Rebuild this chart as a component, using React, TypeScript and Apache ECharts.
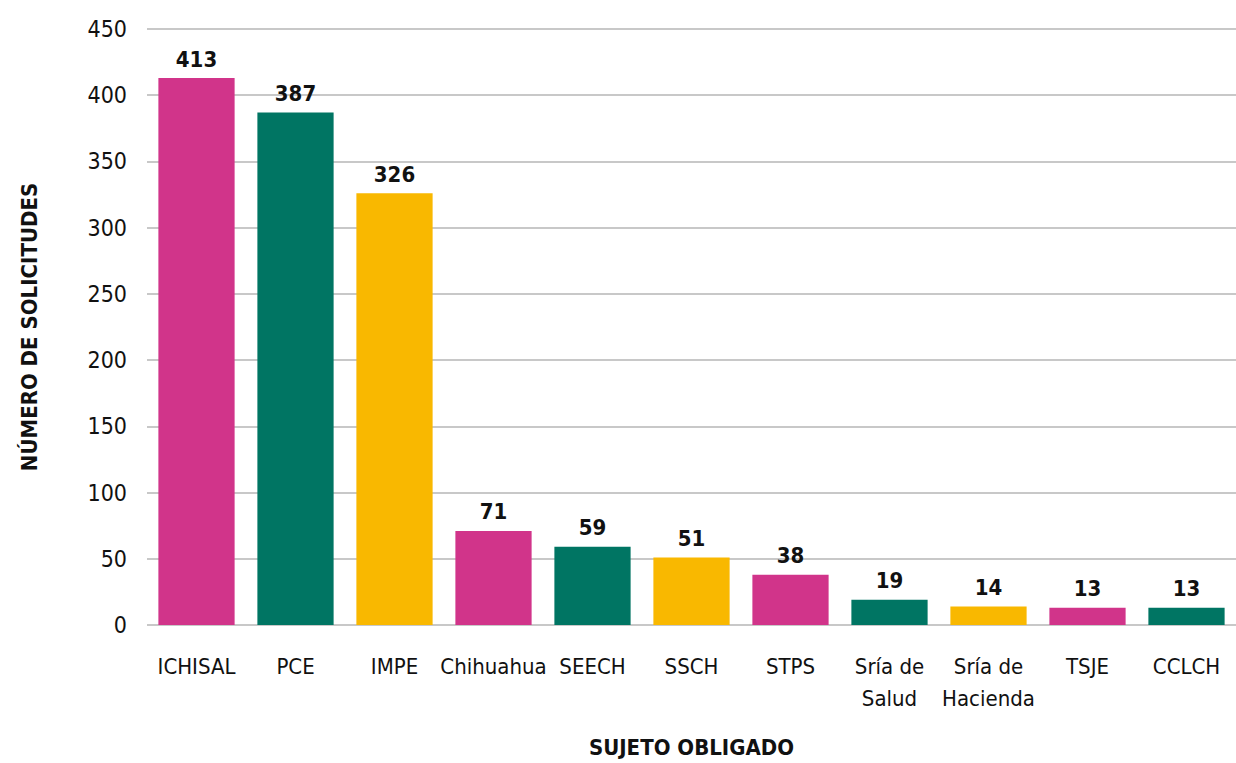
import React, { useEffect, useRef } from "react";
import * as echarts from "echarts";

const categories = ["ICHISAL", "PCE", "IMPE", "Chihuahua", "SEECH", "SSCH", "STPS", "Sría de\nSalud", "Sría de\nHacienda", "TSJE", "CCLCH"];
const values = [413, 387, 326, 71, 59, 51, 38, 19, 14, 13, 13];
const palette = ["#D1348A", "#007563", "#F9B800"];
const yTicks = { min: 0, max: 450, interval: 50 };

const FONT = "'DejaVu Sans Condensed', 'Noto Sans', sans-serif";

export default function App() {
  const ref = useRef<HTMLDivElement>(null);
  useEffect(() => {
    const chart = echarts.init(ref.current!, null, { renderer: "svg" });
    chart.setOption({
      animation: false,
      backgroundColor: "#ffffff",
      textStyle: { fontFamily: FONT },
      grid: { left: 147, right: 0, top: 29, bottom: 138, containLabel: false },
      xAxis: {
        type: "category",
        data: categories,
        name: "SUJETO OBLIGADO",
        nameLocation: "middle",
        nameGap: 111,
        nameTextStyle: { fontFamily: FONT, fontSize: 22, fontWeight: "bold", color: "#111" },
        axisLine: { show: false },
        axisTick: { show: false },
        axisLabel: { fontFamily: FONT, fontSize: 22, color: "#111", margin: 25, lineHeight: 32, interval: 0 },
      },
      yAxis: {
        type: "value",
        min: yTicks.min,
        max: yTicks.max,
        interval: yTicks.interval,
        name: "NÚMERO DE SOLICITUDES",
        nameLocation: "middle",
        nameGap: 107,
        nameTextStyle: { fontFamily: FONT, fontSize: 22, fontWeight: "bold", color: "#111" },
        axisLine: { show: false },
        axisTick: { show: false },
        axisLabel: { fontFamily: FONT, fontSize: 23, color: "#111", margin: 20 },
        splitLine: { lineStyle: { color: "#c8c8c8", width: 2 } },
      },
      series: [
        {
          type: "bar",
          data: values.map((v, i) => ({ value: v, itemStyle: { color: palette[i % 3] } })),
          barCategoryGap: "23%",
          label: {
            show: true,
            position: "top",
            distance: 8,
            fontFamily: FONT,
            fontSize: 22,
            fontWeight: "bold",
            color: "#111",
          },
        },
      ],
    });
    return () => chart.dispose();
  }, []);
  return <div ref={ref} style={{ position: "fixed", left: 0, top: 0, width: 1236, height: 763 }} />;
}
